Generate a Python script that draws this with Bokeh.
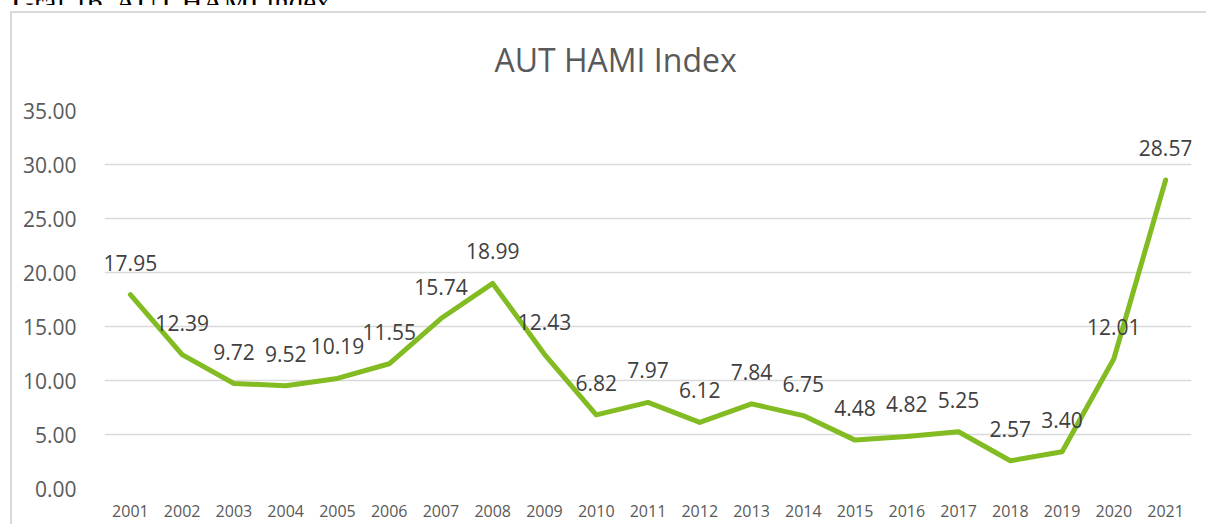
from bokeh.plotting import figure
from bokeh.layouts import column
from bokeh.models import (ColumnDataSource, FixedTicker, NumeralTickFormatter,
                          Range1d, FactorRange, Div, InlineStyleSheet)
from bokeh.core.properties import value
from bokeh.embed import file_html
from bokeh.resources import INLINE

years = [str(y) for y in range(2001, 2022)]
hami = [17.95, 12.39, 9.72, 9.52, 10.19, 11.55, 15.74, 18.99, 12.43, 6.82,
        7.97, 6.12, 7.84, 6.75, 4.48, 4.82, 5.25, 2.57, 3.40, 12.01, 28.57]
labels = [f"{v:.2f}" for v in hami]
y_ticks = [0, 5, 10, 15, 20, 25, 30, 35]
title_text = "AUT HAMI Index"
caption_text = "Graf 16, AUT HAMI index"

FONT = "Open Sans"

W, H = 1206, 524                        # page content kept inside the window
CAP_H = 5                               # visible strip of the caption
FL, FR, FT, FB = 104, 1191, 109, 488    # frame edges in page pixels
PH = H - CAP_H                          # figure height

# caption: only its lower part is visible, as in the reference
cap = Div(text=f'<div style="font-family:\'Liberation Serif\',serif;font-size:29px;'
               f'line-height:29px;white-space:nowrap;margin-top:-19px;'
               f'margin-left:13px;color:#000">{caption_text}</div>',
          width=W, height=CAP_H, margin=0,
          styles={"overflow": "hidden"})

src = ColumnDataSource(dict(x=years, y=hami, t=labels))

p = figure(x_range=FactorRange(*years), y_range=Range1d(0, 35),
           width=W, height=PH, output_backend="svg", toolbar_location=None,
           min_border_left=FL, min_border_right=W - FR,
           min_border_top=FT - CAP_H, min_border_bottom=H - FB,
           title=title_text, margin=0)
p.outline_line_color = None
p.background_fill_color = "white"
p.border_fill_color = "white"

# chart box border: a top bar and a left bar only
p.stylesheets = [InlineStyleSheet(css="""
:host::before {
  content: ""; position: absolute; left: 10px; top: 6px;
  width: 1196px; height: 2px; background: #d9d9d9;
  pointer-events: none; z-index: 100;
}
:host::after {
  content: ""; position: absolute; left: 10px; top: 6px;
  width: 2px; height: 513px; background: #d9d9d9;
  pointer-events: none; z-index: 100;
}
""")]

p.title.align = "left"
p.title.offset = 390
p.title.standoff = 60
p.title.text_font = FONT
p.title.text_font_style = "normal"
p.title.text_font_size = "32px"
p.title.text_color = "#595959"

p.line("x", "y", source=src, line_color="#82BC22", line_width=5,
       line_join="round", line_cap="round")
p.text("x", "y", text="t", source=src, text_align="center",
       text_baseline="middle", y_offset=-32, text_font=value(FONT),
       text_font_size="21px", text_color="#404040")

# axes
p.xgrid.grid_line_color = None
p.ygrid.grid_line_color = "#d9d9d9"
p.ygrid.grid_line_width = 1.5
p.yaxis.ticker = FixedTicker(ticks=y_ticks)
p.yaxis.formatter = NumeralTickFormatter(format="0.00")
for ax in (p.xaxis[0], p.yaxis[0]):
    ax.axis_line_color = None
    ax.major_tick_line_color = None
    ax.minor_tick_line_color = None
    ax.major_label_text_color = "#595959"
    ax.major_label_text_font = FONT
p.yaxis.major_label_text_font_size = "21px"
p.yaxis.major_label_standoff = 22
p.xaxis.major_label_text_font_size = "16px"
p.xaxis.major_label_standoff = 10

layout = column(cap, p, spacing=0, margin=0)
open("out.html", "w").write(file_html(layout, INLINE))
